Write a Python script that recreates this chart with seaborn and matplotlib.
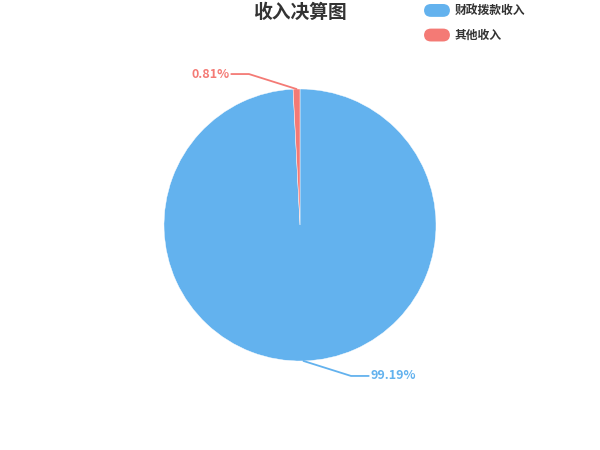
import numpy as np
import matplotlib
matplotlib.use('Agg')
import matplotlib.pyplot as plt
import seaborn as sns
from matplotlib.patches import FancyBboxPatch
from matplotlib.legend_handler import HandlerPatch
from matplotlib.patches import Patch

# 数据
categories = ['财政拨款收入', '其他收入']
values = [99.19, 0.81]
labels = ['99.19%', '0.81%']
colors = ['#63b2ee', '#f47a75']
title = '收入决算图'

sns.set_theme(style='white')
plt.rcParams['font.family'] = ['Noto Sans CJK SC', 'DejaVu Sans']

fig = plt.figure(figsize=(6, 4.5), dpi=100)
ax = fig.add_axes([0, 0, 1, 1])

wedges, _ = ax.pie(values, colors=colors, startangle=90, counterclock=False,
                   radius=1.0, center=(0, 0), frame=True,
                   wedgeprops=dict(edgecolor='white', linewidth=0.3))
ax.set_xlim(-300 / 136, 300 / 136)
ax.set_ylim(-225 / 136, 225 / 136)
ax.set_aspect('equal')
ax.axis('off')

# 引导线与标签
for w, lab, col in zip(wedges, labels, colors):
    mid = np.deg2rad((w.theta1 + w.theta2) / 2)
    x0, y0 = np.cos(mid), np.sin(mid)
    side = 1 if y0 < 0 else -1
    ex, ey = x0 + side * 0.35, np.sign(y0) * 1.11
    hx = ex + side * 0.13
    ax.plot([x0, ex, hx], [y0, ey, ey], color=col, lw=1.3, solid_capstyle='round')
    ax.text(hx + side * 0.01, ey, lab, color=col, fontsize=9, fontweight='bold',
            ha='left' if side > 0 else 'right', va='center')

fig.text(0.5, 0.972, title, ha='center', va='center', fontsize=13.5,
         fontweight='bold', color='#333333')


class HandlerRound(HandlerPatch):
    def create_artists(self, legend, orig_handle, xdescent, ydescent,
                       width, height, fontsize, trans):
        p = FancyBboxPatch((-xdescent, -ydescent), width, height,
                           boxstyle='round,pad=0,rounding_size=5',
                           facecolor=orig_handle.get_facecolor(),
                           edgecolor='none', transform=trans)
        return [p]


handles = [Patch(facecolor=c) for c in colors]
leg = fig.legend(handles, categories, loc='upper left',
                 bbox_to_anchor=(424 / 600, 1 - 4 / 450),
                 frameon=False, fontsize=8.5, handlelength=2.2, handleheight=1.3,
                 handletextpad=0.4, labelspacing=0.95, borderpad=0,
                 borderaxespad=0, handler_map={Patch: HandlerRound()})
for t in leg.get_texts():
    t.set_color('#333333')
    t.set_fontweight('bold')

fig.savefig('out.png', dpi=100)
